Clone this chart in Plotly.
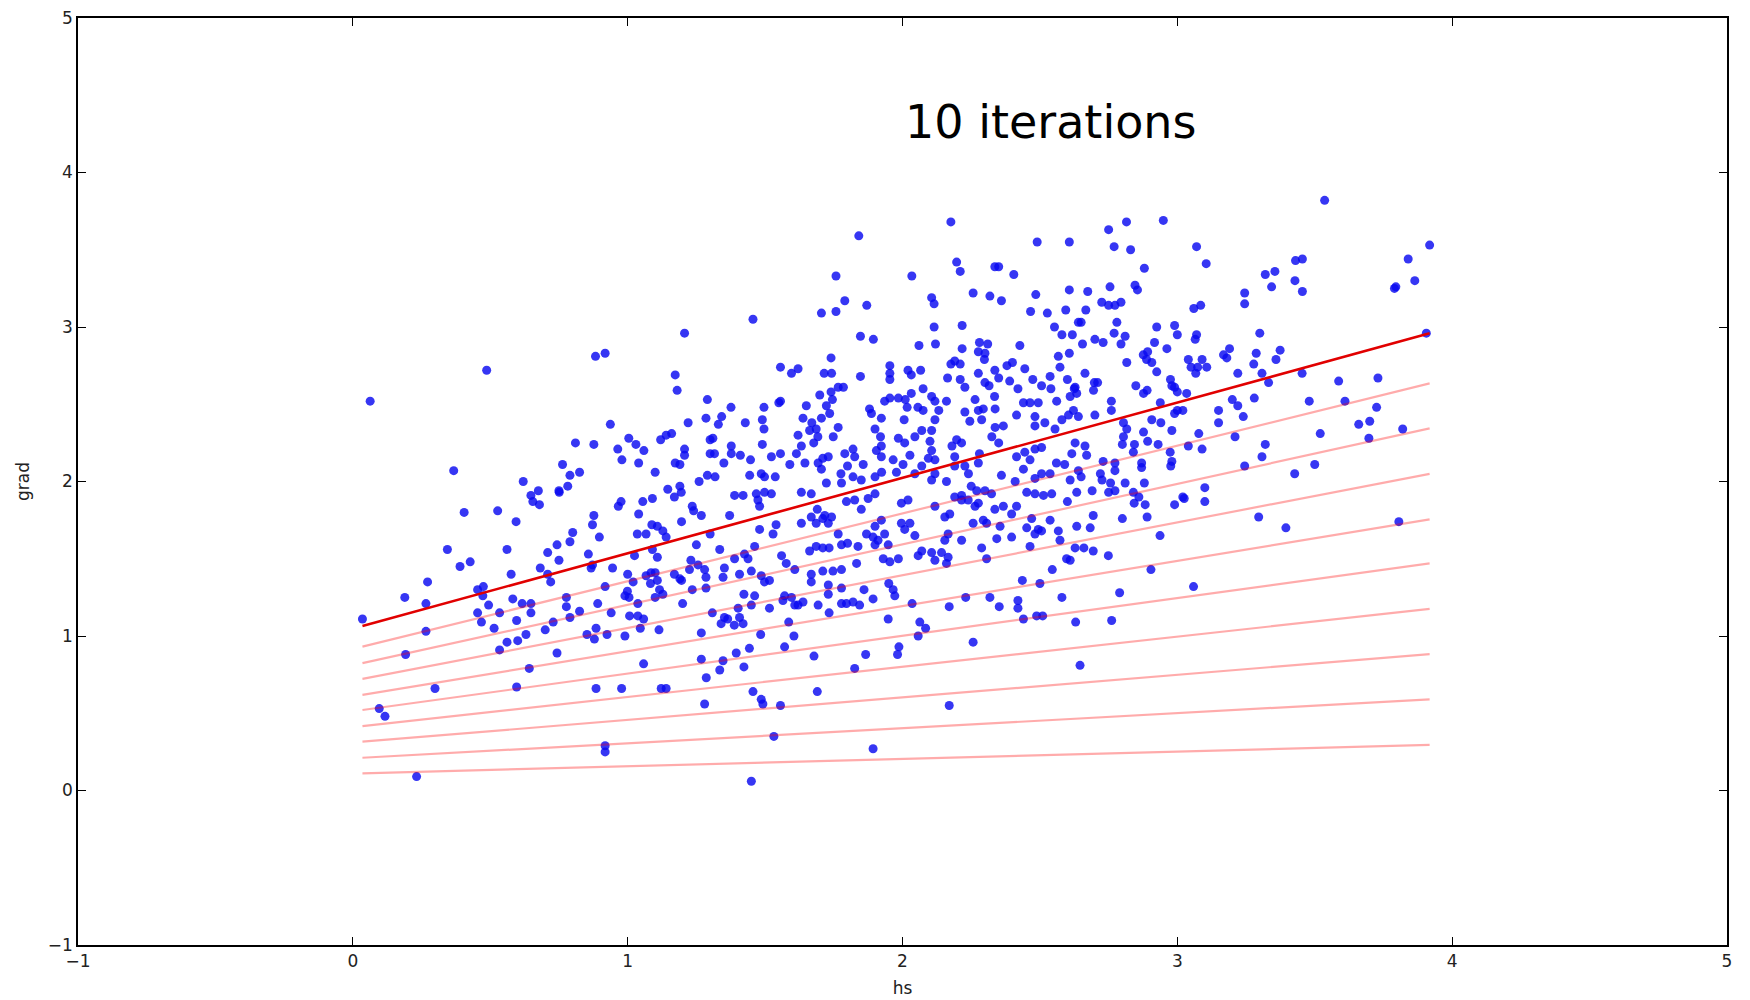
import plotly.graph_objects as go

# ---- scatter data (hs, grad) ----
hs_a = [0.035,0.096,0.117,0.232,0.189,0.192,0.272,0.266,0.266,0.299,
        0.344,0.39,0.427,0.405,0.527,0.594,0.454,0.475,0.473,0.561,
        0.576,0.494,0.534,0.582,0.616,0.648,0.454,0.468,0.514,0.596,
        0.648,0.63,0.534,0.561,0.60,0.642,0.596,0.682,0.709,0.72,
        0.709,0.743,0.75,0.79,0.80,0.857,0.867,0.872,0.877,0.872,
        0.897,0.777,0.777,0.729,0.70,0.79,0.825,0.743,0.852,0.885,
        0.879,0.925,0.891,0.918,0.885,0.918,0.918,0.94,0.945,0.966,
        0.976,0.99,0.978]
grad_a = [1.11,0.53,0.48,0.09,1.25,0.88,1.35,1.21,1.03,0.66,
          1.56,1.45,1.48,1.80,1.81,1.74,1.30,1.32,1.26,1.56,
          1.40,1.20,1.15,1.24,1.21,1.21,1.15,1.09,1.05,1.10,
          1.15,1.01,0.91,0.96,0.97,0.79,0.67,1.44,1.40,1.35,
          1.54,1.59,1.49,1.61,1.67,1.53,1.44,1.46,1.78,1.72,
          1.64,1.25,1.19,1.09,1.04,1.12,1.16,0.89,1.01,1.05,
          0.98,1.01,1.21,1.32,0.66,0.29,0.25,1.15,1.44,1.84,
          1.87,1.00,0.66]

hs_b = [0.999,1.005,0.99,1.0,1.02,1.037,1.007,1.037,1.058,1.046,
        1.114,1.058,1.122,1.14,1.268,1.268,1.286,1.28,1.20,1.235,
        1.23,1.225,1.256,1.28,1.285,1.285,1.17,1.19,1.25,1.235,
        1.24,1.268,1.196,1.30,1.04,1.035,1.067,1.088,1.108,1.128,
        1.14,1.09,1.108,1.025,1.085,1.10,1.108,1.083,1.116,1.10,
        1.128,1.067,1.196,0.648,0.655,0.679,0.751,1.055,1.09,1.17,
        1.195]
grad_b = [1.29,1.25,1.26,1.40,1.35,1.21,1.13,1.13,1.11,1.05,
          1.04,0.82,0.66,0.66,1.02,0.85,0.73,0.56,1.21,1.30,
          1.49,1.43,1.46,1.43,1.38,1.31,1.40,1.37,1.59,1.84,
          1.81,1.78,1.74,1.66,1.79,1.66,1.66,1.72,1.71,1.68,
          1.64,1.56,1.51,1.52,1.41,1.41,1.36,1.34,1.30,1.25,
          1.27,1.39,1.36,1.91,1.87,1.85,1.93,1.87,1.89,1.90,
          1.93]

hs_c = [0.063,0.487,0.883,0.918,1.207,1.173,1.18,1.29,1.285,0.937,
        1.22,0.81,0.877,1.004,1.03,1.059,0.964,0.979,1.04,1.12,
        1.14,1.16,1.207,1.207,1.173,1.19,1.30,1.30,0.367,0.62,
        0.763,0.79,0.825,0.782,0.75,0.675,1.10,1.26,1.29,1.146,
        1.19]
grad_c = [2.52,2.72,2.81,2.83,2.96,2.69,2.59,2.53,2.41,2.37,
          2.38,2.25,2.24,2.28,2.24,2.20,2.21,2.14,2.12,2.27,
          2.30,2.31,2.21,2.17,2.12,2.11,2.27,2.18,2.07,2.00,
          2.11,2.04,2.06,1.97,1.94,1.94,2.06,2.00,2.04,1.95,
          1.97]

hs_d = [1.841,2.176,2.49,2.607,1.758,2.034,2.197,2.21,2.336,2.35,
        2.405,1.456,1.705,1.758,1.79,1.87,2.106,2.115,2.257,2.318,
        2.36,2.485,2.466,2.527,2.607,2.594,2.64,1.847,1.894,2.115,
        2.217,2.06,2.12,2.217,2.28,2.31,2.276,2.30,2.298,2.427,
        2.553,2.58,2.618,2.607,2.567,2.573,1.556,1.596,1.62,1.74,
        1.715,1.742,1.847,1.954,1.954,1.954,2.02,2.032,2.066,2.176,
        2.19,2.21,2.164,2.21,2.227,2.276,2.30,2.315,2.336,2.35,
        2.38,2.40,2.39,2.42,2.445,2.474,2.506,2.537,2.54,2.60,
        2.625]
grad_d = [3.59,3.68,3.55,3.55,3.33,3.33,3.42,3.36,3.39,3.39,
          3.34,3.05,3.09,3.10,3.17,3.14,3.19,3.15,3.22,3.20,
          3.17,3.21,3.10,3.09,3.24,3.11,3.03,2.94,2.92,3.00,
          3.01,2.88,2.89,2.86,2.90,2.89,2.84,2.83,2.79,2.88,
          3.00,2.95,2.95,2.83,2.81,2.74,2.74,2.70,2.73,2.80,
          2.70,2.70,2.68,2.75,2.70,2.66,2.72,2.69,2.72,2.76,
          2.78,2.76,2.67,2.66,2.61,2.70,2.64,2.62,2.72,2.67,
          2.75,2.77,2.65,2.60,2.73,2.66,2.62,2.68,2.60,2.66,
          2.60]

hs_e = [1.376,1.33,1.342,1.428,1.496,1.49,1.496,1.55,1.556,1.65,
        1.638,1.67,1.662,1.62,1.686,1.692,1.677,1.699,1.723,1.745,
        1.735,1.766,1.748,1.705,1.74,1.766,1.785,1.88,1.887,1.923,
        1.935,1.954,1.985,2.01,2.017,2.006,2.032,2.075,2.056,2.075,
        2.106,2.118,2.132,2.16,2.118,2.106,2.07,2.045,2.264,2.276,
        2.294,2.288,2.245,2.227,2.335,2.337,2.367,2.337,2.325,2.35,
        2.415,2.44,2.464,2.494,2.482,2.482,2.518,2.555,2.58,2.604,
        2.622,2.64,2.561,2.61]
grad_e = [2.48,2.37,2.42,2.38,2.48,2.40,2.34,2.51,2.52,2.49,
          2.41,2.38,2.33,2.30,2.34,2.29,2.25,2.56,2.49,2.53,
          2.44,2.35,2.29,2.41,2.58,2.61,2.61,2.47,2.44,2.41,
          2.52,2.54,2.54,2.53,2.48,2.40,2.57,2.60,2.48,2.46,
          2.55,2.52,2.46,2.52,2.40,2.33,2.33,2.29,2.53,2.46,
          2.47,2.40,2.39,2.45,2.55,2.47,2.36,2.35,2.29,2.25,
          2.43,2.51,2.51,2.51,2.42,2.36,2.38,2.34,2.40,2.43,
          2.46,2.42,2.52,2.55]

hs_f = [1.31,1.377,1.316,1.35,1.377,1.41,1.447,1.49,1.523,1.556,
        1.318,1.444,1.486,1.498,1.537,1.389,1.42,1.468,1.498,1.523,
        1.59,1.614,1.632,1.645,1.632,1.668,1.693,1.705,1.71,1.73,
        1.723,1.778,1.776,1.79,1.82,1.826,1.80,1.857,1.82,1.85,
        1.90,1.90,1.924,1.966,1.978,2.002,1.90,1.92,1.923,1.905,
        1.985,2.008,2.027,1.923,2.10,2.106,2.094,2.118,2.07,2.045,
        2.106,2.16,2.118,2.18,2.197,2.215,2.19,2.227,2.24,2.19,
        2.25,2.27,2.30,2.276,2.28,2.215,2.36,2.41,2.44,2.464,
        2.415,2.445,2.482,2.506,2.506,2.482,2.537,2.56,2.59,2.616,
        2.628,2.61,2.634,2.543,2.452,2.513]
grad_f = [2.28,2.23,2.18,2.12,2.18,2.17,2.14,2.24,2.16,2.18,
          2.03,2.04,2.05,2.03,2.03,1.91,1.91,1.92,1.93,1.92,
          2.11,2.18,2.23,2.12,1.93,1.92,2.12,2.08,2.15,2.16,
          1.99,1.99,2.05,2.18,2.21,2.16,2.10,2.11,2.03,2.01,
          2.03,1.92,2.06,2.14,2.06,2.11,2.34,2.29,2.23,2.20,
          2.28,2.25,2.17,2.16,2.26,2.20,2.15,2.14,2.10,2.05,
          2.01,2.00,2.05,2.23,2.27,2.25,2.16,2.10,2.05,2.10,
          1.97,1.94,1.94,2.12,2.18,1.91,2.04,2.00,2.08,2.14,
          2.16,2.19,2.21,2.22,2.05,2.02,2.05,2.12,2.11,2.18,
          2.25,2.01,1.93,1.92,1.93,1.91]

hs_g = [3.536,3.918,3.84,3.864,3.79,3.795,3.906,2.75,2.815,2.949,
        2.77,2.83,2.88,3.07,3.105,3.32,3.355,3.343,3.43,3.455,
        3.428,3.455,3.245,3.245,2.674,2.755,2.667,2.725,2.75,2.773,
        2.795,2.846,2.855,2.65,2.655,2.70,2.73,2.78,2.77,2.81,
        2.795,2.925,2.99,3.0,2.917,2.962,3.06,3.085,3.07,3.065,
        2.876,2.892,2.907,2.925,2.816,2.888,2.664,2.628,2.634,2.698,
        2.71,2.695,2.76,2.76,2.70,2.849,2.877,2.89,2.938,2.975,
        2.98,2.99,3.00,3.04,3.05,3.074,3.09,3.107,3.067,3.034,
        3.168,3.19,3.18,3.22,3.278,3.287,3.30,3.308,3.332,3.359,
        3.374,3.28,3.454,3.48,3.61,3.587,3.73,3.725,3.70,3.66,
        3.697,3.82,3.52,3.50,3.427,3.15,3.15,3.20,3.22,3.24,
        3.21,3.32,3.308,3.245,3.09,3.078,3.04,3.10,3.02,2.907,
        2.94,2.98,2.99,3.00,3.02,2.974,2.98,2.976,2.804,2.816,
        2.804,2.80,2.844,2.84,2.877,2.892,2.93,2.664,2.67,2.73,
        2.773,2.773,2.64,2.65,2.72,2.726,2.757,2.87,2.87,2.81,
        2.88,2.84,2.69,2.75]
grad_g = [3.82,3.53,3.44,3.30,3.25,3.26,2.96,3.63,3.68,3.69,
          3.52,3.50,3.38,3.52,3.41,3.34,3.36,3.26,3.43,3.44,
          3.30,3.23,3.22,3.15,3.23,3.26,3.11,3.16,3.14,3.14,
          3.16,3.27,3.24,3.03,2.89,2.92,2.90,3.03,2.96,2.94,
          2.89,3.00,3.01,2.95,2.90,2.86,3.12,3.14,2.95,2.92,
          2.82,2.84,2.77,2.71,2.77,2.79,2.70,2.61,2.57,2.64,
          2.64,2.59,2.52,2.46,2.43,2.62,2.57,2.59,2.51,2.66,
          2.62,2.61,2.58,2.79,2.74,2.74,2.79,2.74,2.70,2.57,
          2.82,2.86,2.80,2.70,2.76,2.83,2.96,2.70,2.64,2.79,
          2.85,2.54,2.70,2.52,2.52,2.65,2.67,2.48,2.39,2.37,
          2.28,2.34,2.31,2.11,2.05,2.46,2.38,2.53,2.49,2.42,
          2.29,2.24,2.16,2.10,2.21,2.31,2.23,1.96,1.90,2.40,
          2.38,2.33,2.44,2.46,2.46,2.19,2.13,2.10,2.38,2.34,
          2.29,2.24,2.24,2.19,2.32,2.26,2.24,2.23,2.17,2.13,
          2.12,2.07,2.07,2.03,2.05,2.01,1.99,2.09,2.12,1.99,
          1.99,1.93,1.94,1.93]

hs_h = [1.45,1.893,1.532,2.17,1.456,1.486,1.492,1.556,1.69,1.335,
        1.347,1.395,1.423,1.443,1.571,1.605,1.484,1.586,1.678,1.826,
        1.866,1.982,1.987,1.948,2.057,2.084,2.063,2.257,2.17,2.23,
        2.318,2.352,2.42,2.42,2.44,2.488,2.51,2.58,2.63,2.646,
        2.545,2.436,2.50,2.597,2.61,2.035,1.95,1.966,1.972,1.893,
        1.86,1.844,1.82,1.796,1.778,1.733,1.693,1.73,1.73,1.778,
        1.668,1.668,1.71,1.747,1.778,1.833,1.608,1.596,1.571,1.565,
        1.638,1.62,1.308,1.34,1.364,1.388,1.407,1.42,1.352,1.402,
        1.45,1.516,1.423,1.462,1.486,1.498,1.516,1.45,1.407,1.347,
        1.352,1.389,1.425,1.438,1.371,1.335,1.474,1.48,1.462,1.48,
        1.529,1.54,1.56,1.577,1.608,1.632,1.668,1.686,1.71,1.73,
        1.742,1.686,1.71,1.662,1.733,1.778,1.80,1.838,1.869,1.893,
        1.911,1.69,1.717,1.766,1.796,1.826,1.85,1.875,1.90,1.923,
        1.935,1.948,1.90,1.93,1.954,1.985,1.996,2.008,2.027,2.045,
        1.996,2.02,2.057,2.07,2.106,2.118,2.142,2.16,2.166,2.118,
        2.154,2.172,2.19,2.215,2.239,2.264,2.257,2.166,2.154,2.215,
        2.294,2.306,2.288,2.306,2.336,2.367,2.397,2.415,2.355,2.343,
        2.397,2.452,2.47,2.482,2.494,2.506,2.537,2.567,2.573,2.464,
        2.628,2.60,2.634,2.482,2.324,2.276]
grad_h = [0.06,0.27,0.35,0.55,0.64,0.59,0.56,0.55,0.64,0.78,
          0.84,0.89,0.80,0.92,0.93,1.00,1.01,1.09,0.87,0.79,
          0.88,0.88,0.93,1.11,1.00,1.05,1.09,0.96,1.19,1.25,
          1.25,1.19,1.23,1.18,1.11,1.13,1.13,1.25,1.09,0.81,
          1.43,1.36,1.34,1.50,1.49,1.21,1.34,1.30,1.26,1.24,
          1.30,1.20,1.22,1.21,1.21,1.15,1.20,1.27,1.33,1.31,
          1.35,1.40,1.42,1.42,1.43,1.47,1.20,1.25,1.26,1.23,
          1.22,1.20,1.15,1.08,1.11,1.07,1.12,1.08,1.12,1.18,
          1.20,1.18,1.27,1.26,1.39,1.35,1.36,1.42,1.40,1.38,
          1.44,1.50,1.53,1.50,1.78,1.56,1.88,1.84,1.58,1.69,
          1.66,1.72,1.52,1.47,1.43,1.73,1.77,1.73,1.76,1.73,
          1.77,1.58,1.57,1.55,1.57,1.59,1.60,1.58,1.66,1.64,
          1.62,1.82,1.78,1.66,1.87,1.88,1.82,1.89,1.71,1.75,
          1.66,1.59,1.59,1.50,1.48,1.50,1.73,1.69,1.73,1.65,
          1.86,1.88,1.52,1.55,1.54,1.49,1.54,1.47,1.51,1.84,
          1.77,1.79,1.90,1.88,1.88,1.84,1.73,1.66,1.62,1.62,
          1.75,1.73,1.57,1.50,1.82,1.84,1.79,1.84,1.71,1.63,
          1.64,1.70,1.76,1.66,1.69,1.68,1.75,1.68,1.62,1.58,
          1.57,1.87,1.71,1.92,1.92,1.86]

hs_i = [3.806,3.296,3.395,3.059,2.904,2.79,2.761,2.66,2.694,2.749,
        2.683,2.694,2.80,2.89,2.937,2.843,2.883,2.99,3.025,3.10,
        2.773,2.86]
grad_i = [1.74,1.77,1.70,1.32,1.43,1.28,1.10,1.57,1.55,1.52,
          1.70,1.78,1.76,1.77,1.65,1.86,1.85,1.85,1.89,1.87,
          1.94,1.90]

hs = hs_a + hs_b + hs_c + hs_d + hs_e + hs_f + hs_g + hs_h + hs_i
grad = grad_a + grad_b + grad_c + grad_d + grad_e + grad_f + grad_g + grad_h + grad_i

# ---- fitted lines after each iteration: value at min(hs) and at max(hs) ----
line_start = [0.111, 0.212, 0.316, 0.417, 0.521, 0.619, 0.722, 0.824, 0.931, 1.065]
line_end = [0.295, 0.590, 0.883, 1.175, 1.470, 1.755, 2.049, 2.344, 2.635, 2.959]
title_text = "10 iterations"

x_lo, x_hi = min(hs), max(hs)

fig = go.Figure()
fig.add_trace(go.Scatter(
    x=hs, y=grad, mode="markers",
    marker=dict(size=9, color="rgba(10,10,240,0.82)", line=dict(width=0)),
    hoverinfo="x+y"))

for i in range(len(line_start) - 1):
    fig.add_trace(go.Scatter(
        x=[x_lo, x_hi], y=[line_start[i], line_end[i]], mode="lines",
        line=dict(color="rgba(255,0,0,0.33)", width=2.2)))
fig.add_trace(go.Scatter(
    x=[x_lo, x_hi], y=[line_start[-1], line_end[-1]], mode="lines",
    line=dict(color="rgb(225,0,0)", width=2.6)))

axis_common = dict(
    range=[-1, 5], tick0=0, dtick=1, ticks="inside", ticklen=8, tickwidth=1,
    tickcolor="black", showline=True, linecolor="black", linewidth=1.6,
    mirror="ticks", showgrid=False, zeroline=False, automargin=False,
    tickfont=dict(family="DejaVu Sans", size=17, color="#222"),
)

fig.update_layout(
    width=1750, height=1000,
    margin=dict(l=78, r=23, t=18, b=55),
    plot_bgcolor="white", paper_bgcolor="white",
    showlegend=False,
    font=dict(family="DejaVu Sans", color="#222"),
    xaxis=dict(**axis_common, title=dict(text="hs", standoff=12,
               font=dict(family="DejaVu Sans", size=17, color="#222"))),
    yaxis=dict(**axis_common, title=dict(text="grad", standoff=14,
               font=dict(family="DejaVu Sans", size=17, color="#222"))),
    annotations=[dict(x=2.0, y=4.33, xref="x", yref="y", text=title_text,
                      showarrow=False, xanchor="left", yanchor="middle",
                      font=dict(family="DejaVu Sans", size=46, color="black"))],
)

fig.write_html("out.html")
